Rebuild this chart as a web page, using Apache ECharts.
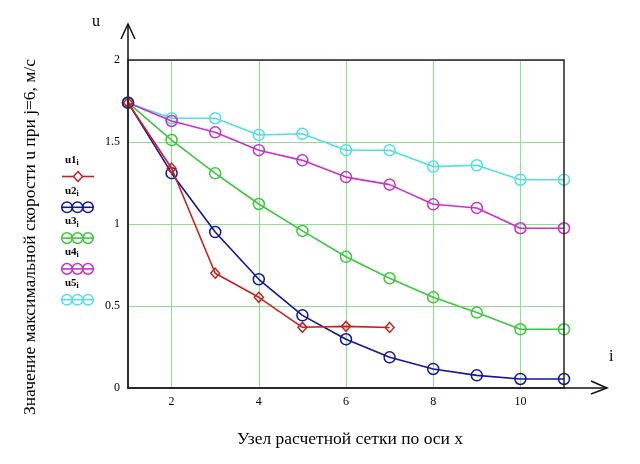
<!DOCTYPE html>
<html>
<head>
<meta charset="utf-8">
<script src="https://cdn.jsdelivr.net/npm/echarts@6/dist/echarts.min.js"></script>
<style>
  html, body { margin: 0; padding: 0; background: #fff; }
  #chart { width: 640px; height: 464px; }
</style>
</head>
<body>
<div id="chart"></div>
<script>
// данные графика (узлы сетки и скорости)
var nodes = ['1', '2', '3', '4', '5', '6', '7', '8', '9', '10', '11'];
var u1 = [1.74, 1.34, 0.70, 0.553, 0.37, 0.376, 0.369];
var u2 = [1.74, 1.31, 0.951, 0.663, 0.443, 0.297, 0.187, 0.116, 0.077, 0.055, 0.055];
var u3 = [1.74, 1.512, 1.309, 1.122, 0.958, 0.80, 0.669, 0.553, 0.46, 0.358, 0.358];
var u4 = [1.74, 1.628, 1.559, 1.45, 1.388, 1.286, 1.24, 1.12, 1.098, 0.974, 0.974];
var u5 = [1.74, 1.645, 1.645, 1.543, 1.55, 1.45, 1.45, 1.35, 1.358, 1.27, 1.27];
var yTicks = [0, 0.5, 1, 1.5, 2];

var names = ['u1', 'u2', 'u3', 'u4', 'u5'];
var colors = ['#c82020', '#1414a0', '#3cc83c', '#c832c8', '#4ee0e6'];
var values = [u1, u2, u3, u4, u5];

var serif = '"Liberation Serif", "DejaVu Serif", serif';
var gridGreen = '#8fe08f';

// область построения
var L = 128, T = 60, R = 564, B = 388;

var myChart = echarts.init(document.getElementById('chart'));

var series = values.map(function (v, k) {
    var c = colors[k];
    return {
        name: names[k],
        type: 'line',
        data: v,
        symbol: k === 0 ? 'diamond' : 'circle',
        symbolSize: k === 0 ? [9, 10] : 11,
        showAllSymbol: true,
        lineStyle: { color: c, width: 1.6 },
        itemStyle: { color: 'rgba(0,0,0,0)', borderColor: c, borderWidth: 1.5 },
        emphasis: { disabled: true },
        z: 10 - k
    };
});

// легенда слева: подпись над образцом линии
var graphics = [];
names.forEach(function (n, k) {
    var ty = 160 + k * 30.8;
    var ly = ty + 16.5;
    graphics.push({
        type: 'text', x: 65, y: ty,
        style: {
            text: '{a|' + n + '}{b|i}',
            verticalAlign: 'middle',
            rich: {
                a: { font: 'bold 11px ' + serif, fill: '#000' },
                b: { font: 'bold 8px ' + serif, fill: '#000', padding: [6, 0, 0, 0] }
            }
        }
    });
    graphics.push({
        type: 'line', shape: { x1: 62, y1: ly, x2: 94, y2: ly },
        style: { stroke: colors[k], lineWidth: 1.6 }
    });
    if (k === 0) {
        graphics.push({
            type: 'polygon',
            shape: { points: [[78, ly - 5], [82.5, ly], [78, ly + 5], [73.5, ly]] },
            style: { fill: '#fff', stroke: colors[k], lineWidth: 1.5 }
        });
    } else {
        [67, 77.5, 88].forEach(function (cx) {
            graphics.push({
                type: 'circle', shape: { cx: cx, cy: ly, r: 5.3 },
                style: { fill: 'none', stroke: colors[k], lineWidth: 1.5 }
            });
        });
    }
});

// рамка, стрелки осей и подписи
graphics.push(
    { type: 'rect', z: 100, shape: { x: L, y: T, width: R - L, height: B - T },
      style: { fill: 'none', stroke: '#222', lineWidth: 1.5 } },
    { type: 'line', z: 100, shape: { x1: L, y1: T, x2: L, y2: 24 }, style: { stroke: '#111', lineWidth: 1.5 } },
    { type: 'polyline', z: 100, shape: { points: [[121, 39], [L, 24], [135, 39]] },
      style: { fill: 'none', stroke: '#111', lineWidth: 1.5 } },
    { type: 'line', z: 100, shape: { x1: R, y1: B, x2: 607, y2: B }, style: { stroke: '#111', lineWidth: 1.5 } },
    { type: 'polyline', z: 100, shape: { points: [[591, 381], [607, B], [591, 394]] },
      style: { fill: 'none', stroke: '#111', lineWidth: 1.5 } },
    { type: 'text', x: 92, y: 14, style: { text: 'u', font: '16px ' + serif, fill: '#000' } },
    { type: 'text', x: 609, y: 349, style: { text: 'i', font: '16px ' + serif, fill: '#000' } },
    { type: 'text', x: 30, y: 237, rotation: Math.PI / 2,
      style: { text: 'Значение максимальной скорости u при j=6, м/с', font: '17.5px ' + serif,
               fill: '#000', align: 'center', verticalAlign: 'middle' } }
);

var option = {
    animation: false,
    backgroundColor: '#fff',
    grid: { left: L, top: T, right: 640 - R, bottom: 464 - B },
    xAxis: {
        type: 'category',
        data: nodes,
        boundaryGap: false,
        name: 'Узел расчетной сетки по оси x',
        nameLocation: 'middle',
        nameGap: 42,
        nameTextStyle: { fontFamily: serif, fontSize: 17.5, color: '#000', padding: [0, 0, 0, 8] },
        axisLine: { lineStyle: { color: '#111', width: 1.5 } },
        axisTick: { show: false },
        axisLabel: {
            interval: function (i) { return i % 2 === 1; },
            fontFamily: serif, fontSize: 12, color: '#000', margin: 8
        },
        splitLine: {
            show: true,
            interval: function (i) { return i % 2 === 1; },
            lineStyle: { color: gridGreen, width: 1.2 }
        }
    },
    yAxis: {
        type: 'value',
        min: yTicks[0],
        max: yTicks[yTicks.length - 1],
        interval: 0.5,
        axisLine: { show: true, lineStyle: { color: '#111', width: 1.5 } },
        axisTick: { show: false },
        axisLabel: { fontFamily: serif, fontSize: 12, color: '#000', margin: 8 },
        splitLine: { show: true, lineStyle: { color: gridGreen, width: 1.2 } }
    },
    graphic: graphics,
    series: series
};

myChart.setOption(option);
</script>
</body>
</html>
